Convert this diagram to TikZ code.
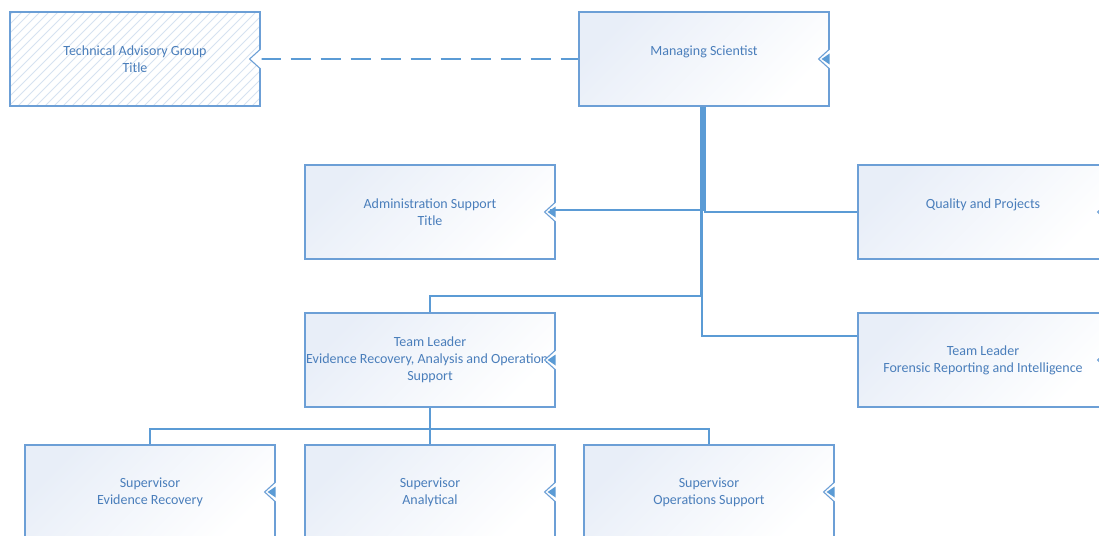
\documentclass[tikz,border=0pt]{standalone}
\usepackage{fontspec}
\setmainfont{Carlito}
\definecolor{lineblue}{HTML}{5B9BD5}
\definecolor{boxblue}{HTML}{6C9FD6}
\definecolor{textblue}{HTML}{4A7EBB}
\definecolor{hatchc}{HTML}{D6E2F1}
\definecolor{shadeblue}{HTML}{E8EEF8}
\newcommand{\notchmark}[1]{%
  \fill[white] ([shift={(1pt,10pt)}]#1.east) -- ([yshift=10pt]#1.east) -- ([xshift=-11pt]#1.east) -- ([yshift=-10pt]#1.east) -- ([shift={(1pt,-10pt)}]#1.east) -- cycle;
  \draw[boxblue, line width=1.1pt, line join=miter] ([yshift=10pt]#1.east) -- ([xshift=-11pt]#1.east) -- ([yshift=-10pt]#1.east);}
\newcommand{\notchfill}[1]{%
  \fill[lineblue] ([yshift=5.5pt]#1.east) -- ([xshift=-8pt]#1.east) -- ([yshift=-5.5pt]#1.east) -- cycle;}
\begin{document}
\begin{tikzpicture}[x=1pt,y=-1pt,
  box/.style={draw=boxblue, line width=1.2pt, minimum width=250pt, minimum height=94pt,
    inner sep=0pt, align=center, text=textblue, font=\fontsize{14}{17}\selectfont,
    top color=shadeblue, bottom color=white, shading angle=45},
  hatched/.style={draw=boxblue, line width=1.2pt, minimum width=250pt, minimum height=94pt,
    inner sep=0pt, align=center, text=textblue, font=\fontsize{14}{17}\selectfont, fill=white,
    path picture={\foreach \k in {0,...,40}
      \draw[hatchc, line width=0.9pt] ([xshift=\k*9pt-100pt]path picture bounding box.south west) -- ++(100pt,100pt);}},
  conn/.style={draw=lineblue, line width=2pt},
  dashconn/.style={draw=lineblue, line width=2.5pt, dash pattern=on 20pt off 10pt}]
\useasboundingbox (0,0) rectangle (1099,535);
\clip (0,0) rectangle (1099,535);

% nodes
\node[hatched] (tag) at (135,59) {Technical Advisory Group\\Title};
\node[box] (ms) at (704,59) {Managing Scientist\\\mbox{}};
\node[box] (adm) at (430,212) {Administration Support\\Title};
\node[box] (qual) at (983,212) {Quality and Projects\\\mbox{}};
\node[box] (tle) at (430,360) {Team Leader\\Evidence Recovery, Analysis and Operations\\Support};
\node[box] (tlf) at (983,360) {Team Leader\\Forensic Reporting and Intelligence};
\node[box] (s1) at (150,492) {Supervisor\\Evidence Recovery};
\node[box] (s2) at (430,492) {Supervisor\\Analytical};
\node[box] (s3) at (709,492) {Supervisor\\Operations Support};

% connectors
\draw[dashconn] (tag.east) -- (ms.west);
\draw[conn] ([xshift=-1pt]ms.south) |- ([yshift=2pt]adm.east);
\draw[conn] ([xshift=1pt]ms.south) |- (qual.west);
\draw[conn] ([xshift=-3pt]ms.south) |- ([yshift=16pt]tle.north) -- (tle.north);
\draw[conn] ([xshift=-2pt]ms.south) |- ([yshift=24pt]tlf.west);
\draw[conn] (tle.south) -- (s2.north);
\draw[conn] (s1.north) -- ++(0,-15) -| (s3.north);

% notches
\foreach \n in {tag,ms,adm,qual,tle,tlf,s1,s2,s3} {\notchmark{\n}}
\foreach \n in {ms,adm,qual,tle,tlf,s1,s2,s3} {\notchfill{\n}}
\draw[conn] ([shift={(-6pt,2pt)}]adm.east) -- ++(8,0);
\end{tikzpicture}
\end{document}
